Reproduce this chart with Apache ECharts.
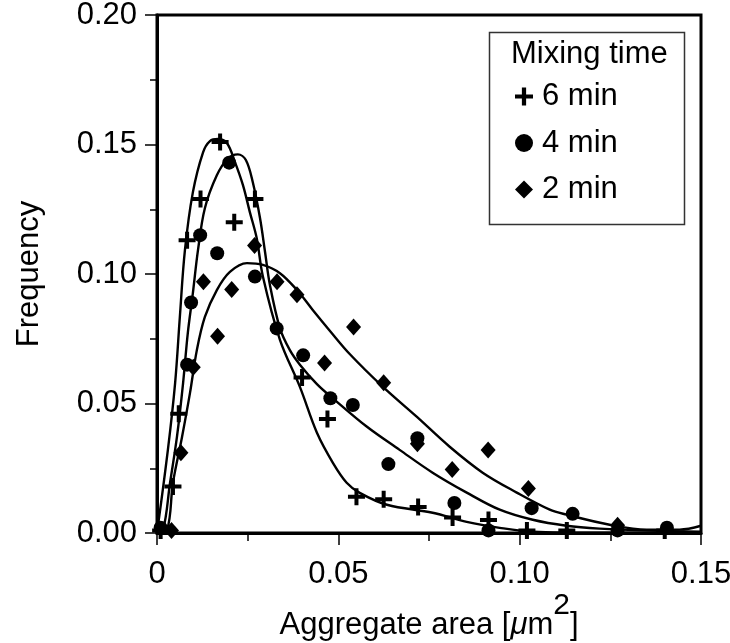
<!DOCTYPE html>
<html><head><meta charset="utf-8">
<script src="https://cdn.jsdelivr.net/npm/echarts@6/dist/echarts.min.js"></script>
<style>html,body{margin:0;padding:0;background:#fff}#c{width:730px;height:643px}</style>
</head><body><div id="c"></div>
<script>
// ---- data ----
const xTicks = [0, 0.05, 0.10, 0.15];
const yTicks = [0, 0.05, 0.10, 0.15, 0.20];
const seriesNames = ['6 min', '4 min', '2 min'];
const legendTitle = 'Mixing time';

const pts6 = [[0.001,0.001],[0.0044,0.018],[0.006,0.046],[0.0083,0.113],[0.012,0.129],[0.0174,0.151],[0.0213,0.120],[0.027,0.129],[0.040,0.060],[0.047,0.044],[0.055,0.014],[0.0625,0.013],[0.072,0.010],[0.0815,0.006],[0.0914,0.005],[0.102,0.001],[0.113,0.001],[0.140,0.001]];
const pts4 = [[0.001,0.002],[0.0083,0.065],[0.0094,0.089],[0.0119,0.115],[0.0166,0.108],[0.0199,0.143],[0.027,0.099],[0.033,0.079],[0.0403,0.0686],[0.0478,0.052],[0.054,0.0494],[0.0638,0.0266],[0.0718,0.0366],[0.082,0.0116],[0.0914,0.001],[0.1033,0.0096],[0.1146,0.0074],[0.127,0.001],[0.1406,0.002]];
const pts2 = [[0.004,0.001],[0.0066,0.031],[0.010,0.064],[0.0128,0.097],[0.0167,0.076],[0.0206,0.094],[0.0269,0.111],[0.0331,0.097],[0.0386,0.092],[0.0462,0.0656],[0.0542,0.0795],[0.0625,0.058],[0.0718,0.0345],[0.0814,0.0245],[0.0913,0.032],[0.1024,0.0172],[0.127,0.003]];

const fit6 = [[0,0],[0.0030,0.0321],[0.0050,0.0580],[0.0063,0.0834],[0.0077,0.1092],[0.0099,0.1316],[0.0127,0.1470],[0.0146,0.1513],[0.0168,0.1521],[0.0193,0.1505],[0.0215,0.1432],[0.0237,0.1343],[0.0256,0.1239],[0.0275,0.1138],[0.0292,0.0990],[0.0339,0.0746],[0.0394,0.0564],[0.0441,0.0387],[0.0485,0.0271],[0.0523,0.0194],[0.0559,0.0155],[0.0634,0.0109],[0.0760,0.0078],[0.0854,0.0043],[0.0945,0.0020],[0.1036,0.0005],[0.122,0.0001],[0.15,0.0001]];
const fit4 = [[0,0],[0.0017,0.0013],[0.0036,0.0194],[0.0055,0.0371],[0.0072,0.0580],[0.0085,0.0773],[0.0099,0.0927],[0.0113,0.1092],[0.0132,0.1254],[0.0165,0.1381],[0.0196,0.1447],[0.0223,0.1462],[0.0245,0.1440],[0.0264,0.1355],[0.0284,0.1216],[0.0298,0.1084],[0.0311,0.0960],[0.0339,0.0790],[0.0366,0.0707],[0.0394,0.0650],[0.0441,0.0575],[0.0485,0.0520],[0.0579,0.0410],[0.0669,0.0321],[0.0760,0.0233],[0.0854,0.0156],[0.0945,0.0090],[0.1036,0.0051],[0.1129,0.0028],[0.1220,0.0017],[0.1358,0.0009],[0.15,0.0005]];
const fit2 = [[0,0],[0.0028,0.0013],[0.0044,0.0194],[0.0069,0.0371],[0.0091,0.0541],[0.0110,0.0707],[0.0132,0.0834],[0.0165,0.0938],[0.0201,0.1008],[0.0248,0.1042],[0.0292,0.1035],[0.0339,0.1003],[0.0386,0.0938],[0.0430,0.0860],[0.0477,0.0780],[0.0532,0.0690],[0.0623,0.0564],[0.0716,0.0449],[0.0807,0.0333],[0.0898,0.0233],[0.0992,0.0156],[0.1083,0.0090],[0.1129,0.0071],[0.1248,0.0032],[0.1350,0.0013],[0.1441,0.0013],[0.15,0.0028]];

// ---- chart ----
const FONT = 'Liberation Sans, Arial, Helvetica, sans-serif';
const plusPath = 'path://M0,6.5H6.5V0H10.5V6.5H17V10.5H10.5V17H6.5V10.5H0Z';
const symbols = [plusPath, 'circle', 'diamond'];
const symSizes = [17, 14, [15, 17]];
const ptsList = [pts6, pts4, pts2];
const fits = [fit6, fit4, fit2];

const chart = echarts.init(document.getElementById('c'), null, {renderer: 'canvas'});
const series = [];
fits.forEach((f, i) => series.push({
  type: 'line', data: f, smooth: 0.35, showSymbol: false, symbol: 'none',
  lineStyle: {color: '#000', width: 2.4}, z: 2, silent: true
}));
ptsList.forEach((p, i) => series.push({
  name: seriesNames[i], type: 'scatter', data: p, symbol: symbols[i], symbolSize: symSizes[i],
  itemStyle: {color: '#000', opacity: 1}, z: 3
}));

const fmt = v => (Math.abs(v) < 1e-9 ? '0' : v.toFixed(2));
chart.setOption({
  backgroundColor: '#fff',
  animation: false,
  grid: {left: 157, right: 29, top: 15, bottom: 110, show: true, borderColor: '#000', borderWidth: 3, backgroundColor: 'transparent', containLabel: false, outerBoundsMode: 'none'},
  xAxis: {
    type: 'value', min: xTicks[0], max: xTicks[xTicks.length - 1], interval: 0.05,
    axisLine: {show: true, lineStyle: {color: '#000', width: 3}},
    axisTick: {show: true, inside: false, length: 12, lineStyle: {color: '#000', width: 1.5}},
    minorTick: {show: true, splitNumber: 2, length: 8, lineStyle: {color: '#000', width: 1.5}},
    splitLine: {show: false},
    axisLabel: {color: '#000', fontFamily: FONT, fontSize: 31, margin: 26, formatter: fmt},
    name: '{a|Aggregate area [}{mu|μ}{a|m}{s|2}{a|]}',
    nameLocation: 'middle', nameGap: 74, nameMoveOverlap: false,
    nameTextStyle: {
      rich: {
        a: {fontFamily: FONT, fontSize: 31, color: '#000', verticalAlign: 'bottom', lineHeight: 34},
        mu: {fontFamily: FONT, fontSize: 31, fontStyle: 'italic', color: '#000', verticalAlign: 'bottom', lineHeight: 34},
        s: {fontFamily: FONT, fontSize: 30, color: '#000', verticalAlign: 'bottom', lineHeight: 34, padding: [0, 0, 20, 0]}
      }
    }
  },
  yAxis: {
    type: 'value', min: yTicks[0], max: yTicks[yTicks.length - 1], interval: 0.05,
    axisLine: {show: true, lineStyle: {color: '#000', width: 3}},
    axisTick: {show: true, inside: false, length: 12, lineStyle: {color: '#000', width: 1.5}},
    minorTick: {show: true, splitNumber: 2, length: 7, lineStyle: {color: '#000', width: 1.5}},
    splitLine: {show: false},
    axisLabel: {color: '#000', fontFamily: FONT, fontSize: 31, margin: 20, formatter: v => v.toFixed(2)},
    name: 'Frequency', nameLocation: 'middle', nameGap: 112, nameMoveOverlap: false,
    nameTextStyle: {color: '#000', fontFamily: FONT, fontSize: 31}
  },
  legend: {
    show: true, orient: 'vertical', left: 510, top: 76,
    itemWidth: 18, itemHeight: 18, itemGap: 15.5,
    data: seriesNames.map((n, i) => ({name: n, icon: symbols[i]})),
    textStyle: {color: '#000', fontFamily: FONT, fontSize: 31, lineHeight: 31, padding: [0, 0, 0, 4]},
    itemStyle: {color: '#000', opacity: 1},
    selectedMode: false
  },
  graphic: [
    {type: 'rect', left: 487, top: 30, shape: {width: 195, height: 192}, style: {fill: 'none', stroke: '#333', lineWidth: 1.5}, z: 10},
    {type: 'text', left: 511, top: 39, style: {text: legendTitle, font: '31px ' + FONT, fill: '#000'}, z: 10}
  ],
  series: series
});
</script></body></html>
